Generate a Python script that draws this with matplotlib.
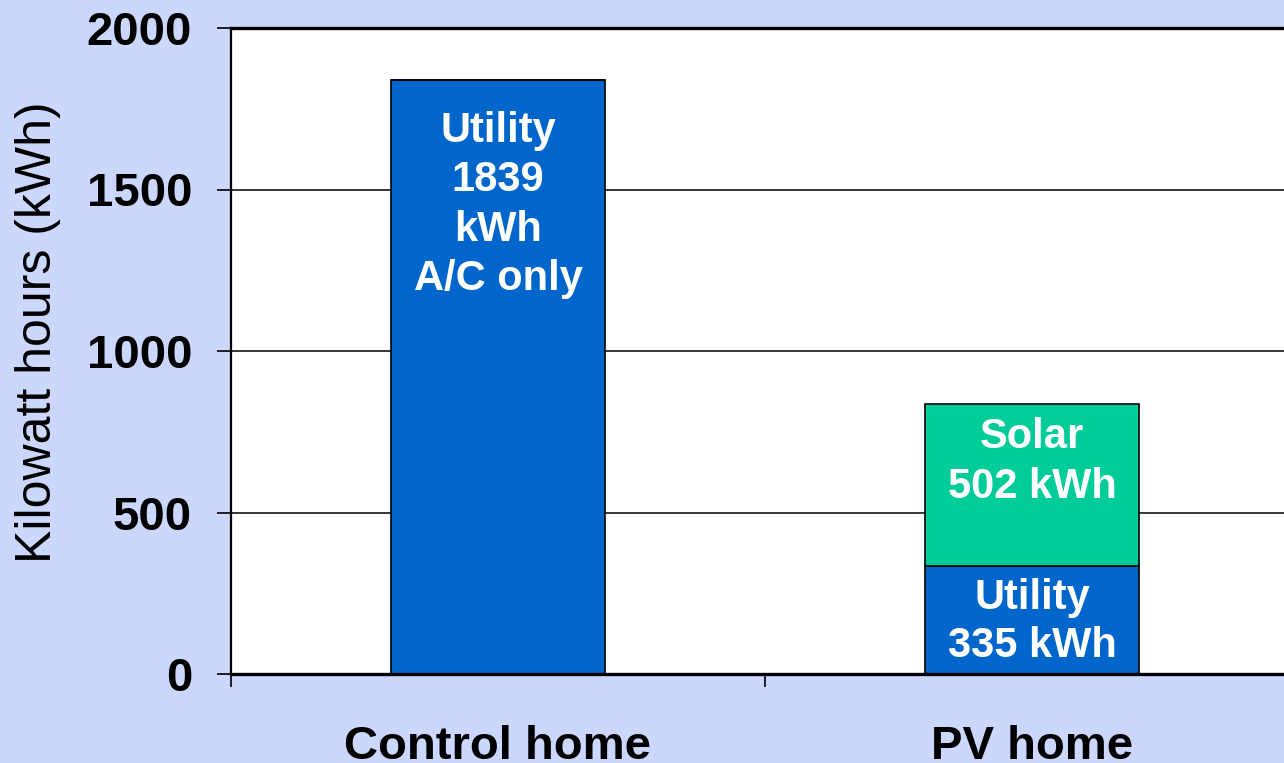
import matplotlib
matplotlib.use("Agg")
import matplotlib.pyplot as plt

categories = ["Control home", "PV home"]
utility = [1839, 335]
solar = [0, 502]
utility_labels = ["Utility\n1839\nkWh\nA/C only", "Utility\n335 kWh"]
solar_labels = ["", "Solar\n502 kWh"]
yticks = [0, 500, 1000, 1500, 2000]

BG = "#CCD7FE"
BLUE = "#0066CC"
GREEN = "#00CC99"

plt.rcParams['font.family'] = ['Liberation Sans', 'DejaVu Sans']

fig = plt.figure(figsize=(12.84, 7.63), dpi=100, facecolor=BG)
ax = fig.add_axes([231/1284, (763-674)/763, 1068/1284, (674-28)/763])
ax.set_facecolor("white")
ax.set_axisbelow(True)

x = list(range(len(categories)))
ax.bar(x, utility, width=0.4, color=BLUE, edgecolor="black", linewidth=1.2, zorder=2)
ax.bar(x, solar, width=0.4, bottom=utility, color=GREEN, edgecolor="black", linewidth=1.2, zorder=2)

# in-bar labels
ax.annotate(utility_labels[0], xy=(x[0], utility[0]), xytext=(0, -22), textcoords="offset points",
            ha="center", va="top", color="white", fontsize=30, fontweight="bold", linespacing=1.31, zorder=3)
ax.annotate(solar_labels[1], xy=(x[1], utility[1] + solar[1]), xytext=(0, -9.5), textcoords="offset points",
            ha="center", va="top", color="white", fontsize=30, fontweight="bold", linespacing=1.32, zorder=3)
ax.annotate(utility_labels[1], xy=(x[1], utility[1]), xytext=(0, -9), textcoords="offset points",
            ha="center", va="top", color="white", fontsize=30, fontweight="bold", linespacing=1.25, zorder=3)

ax.set_xlim(-0.5, 1.5)
ax.set_ylim(0, 2000)
ax.set_yticks(yticks)
ax.set_yticklabels([str(v) for v in yticks], fontsize=34, fontweight="bold")
ax.yaxis.grid(True, color="black", linewidth=1.1)

ax.set_xticks([-0.5, 0.5, 1.5])
ax.set_xticklabels([])
ax.set_xticks(x, minor=True)
ax.set_xticklabels(categories, minor=True, fontsize=34, fontweight="bold")
ax.tick_params(axis="x", which="major", direction="out", length=9, width=1.2)
ax.tick_params(axis="x", which="minor", length=0, pad=37)
ax.tick_params(axis="y", which="major", direction="out", length=10, width=1.2, pad=18)

ax.spines["top"].set_linewidth(2.4)
ax.spines["bottom"].set_linewidth(2.4)
ax.spines["left"].set_linewidth(1.6)
ax.spines["right"].set_linewidth(1.6)

fig.text(38/1284, 1 - 332/763, "Kilowatt hours (kWh)", rotation=90, ha="center", va="center",
         fontsize=36, color="black")

fig.savefig("out.png", dpi=100, facecolor=BG)
